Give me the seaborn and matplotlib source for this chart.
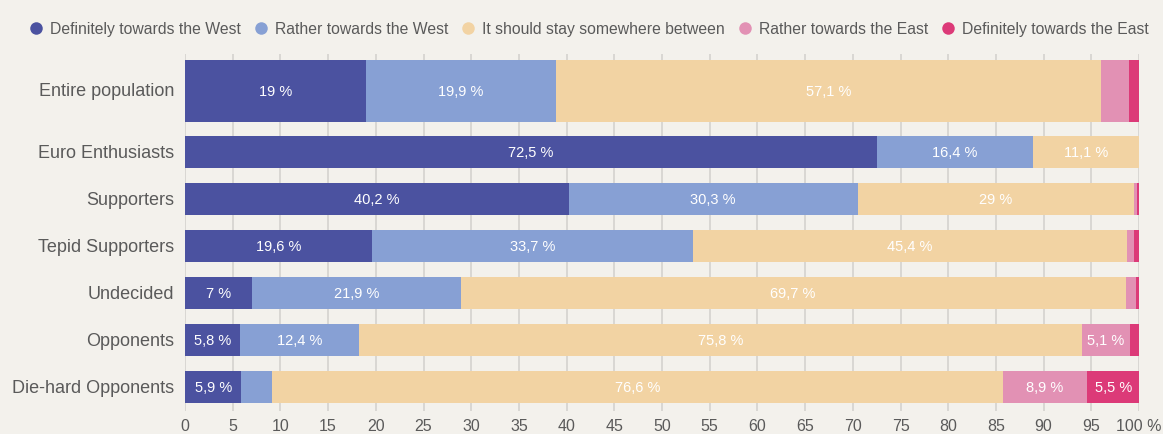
import matplotlib
matplotlib.use("Agg")
import matplotlib.pyplot as plt
from matplotlib.lines import Line2D
import matplotlib.transforms as mtransforms
import numpy as np
import seaborn as sns

# Survey groups (top to bottom) and answer shares in percent
groups = ["Entire population", "Euro Enthusiasts", "Supporters",
          "Tepid Supporters", "Undecided", "Opponents", "Die-hard Opponents"]
answers = ["Definitely towards the West", "Rather towards the West",
           "It should stay somewhere between", "Rather towards the East",
           "Definitely towards the East"]

definitely_west = [19.0, 72.5, 40.2, 19.6, 7.0, 5.8, 5.9]
rather_west = [19.9, 16.4, 30.3, 33.7, 21.9, 12.4, 3.2]
in_between = [57.1, 11.1, 29.0, 45.4, 69.7, 75.8, 76.6]
rather_east = [2.9, 0.0, 0.3, 0.8, 1.1, 5.1, 8.9]
definitely_east = [1.1, 0.0, 0.2, 0.5, 0.3, 0.9, 5.5]

tick_values = list(range(0, 101, 5))
tick_labels = [str(v) for v in tick_values[:-1]] + ["100 %"]

colors = ["#4b52a0", "#87a0d4", "#f2d3a3", "#e291b4", "#dc3a78"]
bg = "#f3f1ec"
text_grey = "#5a5a5a"

sns.set_theme(style="whitegrid")
plt.rcParams["font.family"] = ["Liberation Sans", "DejaVu Sans"]

fig = plt.figure(figsize=(11.63, 4.35), dpi=100, facecolor=bg)
W, H = 1163, 435
ax = fig.add_axes([185 / W, 1 - 412 / H, (1139 - 185) / W, (412 - 55) / H])
ax.set_facecolor(bg)

# row positions: the first (overall) row is set apart and drawn thicker
ypos = np.array([6.3, 5, 4, 3, 2, 1, 0])
heights = np.array([1.32, 0.70, 0.70, 0.70, 0.70, 0.70, 0.70])

series = [definitely_west, rather_west, in_between, rather_east, definitely_east]
left = np.zeros(len(groups))
for vals, col in zip(series, colors):
    vals = np.array(vals)
    ax.barh(ypos, vals, left=left, height=heights, color=col,
            edgecolor="none", zorder=3)
    for y, l, v in zip(ypos, left, vals):
        if v >= 5:
            txt = f"{v:.1f}".rstrip("0").rstrip(".").replace(".", ",") + " %"
            ax.text(l + v / 2, y, txt, ha="center", va="center",
                    color="white", fontsize=10.5, zorder=4)
    left += vals

ax.set_xlim(0, 100)
ax.set_ylim(-0.51, 7.085)
ax.set_xticks(tick_values)
ax.set_xticklabels(tick_labels)
ax.set_yticks(ypos)
ax.set_yticklabels(groups)
ax.tick_params(axis="x", length=0, pad=5, labelsize=11.5, labelcolor=text_grey)
ax.tick_params(axis="y", length=0, pad=8, labelsize=13, labelcolor=text_grey)
# nudge the group names up slightly
shift = mtransforms.ScaledTranslation(0, 2 / 100, fig.dpi_scale_trans)
for lbl in ax.get_yticklabels():
    lbl.set_transform(lbl.get_transform() + shift)
ax.grid(axis="x", color="#d4d2ce", linewidth=1.2, zorder=0)
ax.grid(axis="y", visible=False)
for s in ax.spines.values():
    s.set_visible(False)

handles = [Line2D([0], [0], marker="o", linestyle="none", markersize=9,
                  markerfacecolor=c, markeredgecolor="none") for c in colors]
fig.legend(handles, answers, ncol=5, loc="center",
           bbox_to_anchor=(0.506, 1 - 29.5 / H), frameon=False,
           fontsize=11.3, handlelength=1.0, handletextpad=0.4,
           columnspacing=0.75, labelcolor=text_grey)

fig.savefig("out.png", dpi=100, facecolor=bg)
